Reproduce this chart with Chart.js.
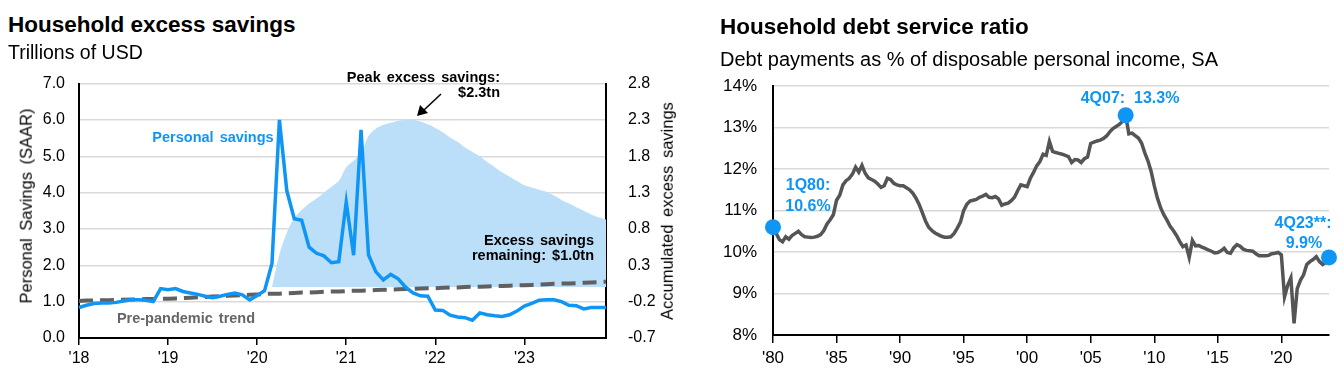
<!DOCTYPE html>
<html>
<head>
<meta charset="utf-8">
<script src="https://cdn.jsdelivr.net/npm/chart.js@4.4.1/dist/chart.umd.min.js"></script>
<style>
  body { margin: 0; width: 1344px; height: 384px; background: #fff; position: relative; overflow: hidden;
         font-family: "Liberation Sans", Arial, sans-serif; color: #000; }
  canvas { position: absolute; }
  .t { position: absolute; white-space: pre; line-height: 1; }
  .c { transform: translate(-50%, -50%); }
  .l { transform: translate(0, -50%); }
  .r { transform: translate(-100%, -50%); text-align: right; }
  .rot { transform: translate(-50%, -50%) rotate(-90deg); }
  .title { font-weight: bold; font-size: 22.5px; }
  .sub { font-size: 19.5px; }
  .note { font-weight: bold; font-size: 14.5px; word-spacing: 2px; }
  .blue { color: #0f96f5; }
  .dnote { font-weight: bold; font-size: 16px; color: #0f96f5; }
  svg { position: absolute; left: 0; top: 0; }
</style>
</head>
<body>
<canvas id="savingsChart" width="690" height="324" style="left:0;top:60px"></canvas>
<canvas id="debtChart" width="654" height="324" style="left:690px;top:60px"></canvas>

<div class="t l title" style="left:8px;top:25px">Household excess savings</div>
<div class="t l sub" style="left:8px;top:53px">Trillions of USD</div>
<div class="t rot" style="left:26px;top:206px;font-size:16.5px;word-spacing:3px">Personal Savings (SAAR)</div>
<div class="t rot" style="left:667px;top:211px;font-size:16.5px;word-spacing:3px">Accumulated excess savings</div>
<div class="t c note blue" style="left:213px;top:137px">Personal savings</div>
<div class="t c note" style="left:186px;top:318px;color:#666">Pre-pandemic trend</div>
<div class="t r note" style="left:500px;top:77px">Peak excess savings:</div>
<div class="t r note" style="left:500px;top:92px">$2.3tn</div>
<div class="t r note" style="left:594px;top:240px">Excess savings</div>
<div class="t r note" style="left:594px;top:255px">remaining: $1.0tn</div>
<svg width="1344" height="384">
  <line x1="441" y1="94" x2="424" y2="110" stroke="#000" stroke-width="1.5"/>
  <polygon points="417,116 420,105 428,113" fill="#000"/>
</svg>

<div class="t l title" style="left:720px;top:27px">Household debt service ratio</div>
<div class="t l sub" style="left:720px;top:59px;font-size:20px">Debt payments as % of disposable personal income, SA</div>
<div class="t c dnote" style="left:1130px;top:98px">4Q07:  13.3%</div>
<div class="t c dnote" style="left:808px;top:185px">1Q80:</div>
<div class="t c dnote" style="left:808px;top:206px">10.6%</div>
<div class="t c dnote" style="left:1303px;top:223px">4Q23**:</div>
<div class="t c dnote" style="left:1304px;top:243px">9.9%</div>

<script>
const FONT = "'Liberation Sans', Arial, sans-serif";
const BLUE = "#0f96f5";
const AREA = "#bcdff9";

// ---- Household excess savings (monthly, Jan 2018 - Dec 2023) ----
const savingsYearLabels = ["'18", "'19", "'20", "'21", "'22", "'23"];
const months = [];
for (let y = 2018; y <= 2023; y++) for (let m = 1; m <= 12; m++) months.push(y + "-" + m);

const personalSavings = [
  0.84, 0.90, 0.95, 0.96, 0.96, 0.98, 1.02, 1.05, 1.05, 1.04, 1.00, 1.36,
  1.33, 1.36, 1.28, 1.24, 1.20, 1.15, 1.11, 1.15, 1.20, 1.24, 1.19, 1.05,
  1.17, 1.30, 2.05, 6.00, 4.05, 3.28, 3.24, 2.50, 2.33, 2.26, 2.07, 2.10,
  3.74, 2.28, 5.73, 2.29, 1.82, 1.60, 1.75, 1.63, 1.40, 1.24, 1.16, 1.15,
  0.77, 0.76, 0.63, 0.58, 0.56, 0.49, 0.69, 0.64, 0.61, 0.59, 0.64, 0.74,
  0.88, 0.95, 1.04, 1.05, 1.05, 1.00, 0.90, 0.89, 0.80, 0.84, 0.84, 0.84
];
const prePandemicTrend = [
  1.02, 1.03, 1.03, 1.04, 1.04, 1.05, 1.05, 1.06, 1.06, 1.07, 1.07, 1.08,
  1.08, 1.09, 1.10, 1.11, 1.12, 1.13, 1.14, 1.15, 1.16, 1.17, 1.18, 1.19,
  1.20, 1.21, 1.22, 1.22, 1.23, 1.24, 1.25, 1.25, 1.26, 1.27, 1.28, 1.28,
  1.29, 1.30, 1.30, 1.31, 1.32, 1.33, 1.33, 1.34, 1.35, 1.35, 1.36, 1.37,
  1.37, 1.38, 1.39, 1.39, 1.40, 1.41, 1.41, 1.42, 1.43, 1.43, 1.44, 1.45,
  1.45, 1.46, 1.47, 1.48, 1.49, 1.50, 1.50, 1.51, 1.52, 1.53, 1.54, 1.55
];
const excessSavings = [
  null, null, null, null, null, null, null, null, null, null, null, null,
  null, null, null, null, null, null, null, null, null, null, null, null,
  null, null, 0.00, 0.45, 0.75, 0.95, 1.06, 1.15, 1.22, 1.30, 1.38, 1.46,
  1.65, 1.74, 1.85, 2.08, 2.18, 2.23, 2.26, 2.29, 2.30, 2.30, 2.28, 2.24,
  2.19, 2.13, 2.06, 2.00, 1.92, 1.86, 1.80, 1.72, 1.65, 1.58, 1.52, 1.46,
  1.40, 1.37, 1.34, 1.31, 1.26, 1.20, 1.15, 1.10, 1.05, 1.00, 0.96, 0.93
];
const excessTicks = [-0.7, -0.2, 0.3, 0.8, 1.3, 1.8, 2.3, 2.8];

// ---- Household debt service ratio (quarterly, 1Q80 - 4Q23) ----
const debtYearLabels = ["'80", "'85", "'90", "'95", "'00", "'05", "'10", "'15", "'20"];
const quarters = [];
for (let y = 1980; y <= 2023; y++) for (let q = 1; q <= 4; q++) quarters.push(q + "Q" + String(y).slice(2));

const debtService = [
  10.60, 10.45, 10.30, 10.25,  10.37, 10.31, 10.40, 10.45,  10.50, 10.42, 10.37, 10.36,
  10.35, 10.36, 10.38, 10.42,  10.52, 10.68, 10.78, 10.90,  11.25, 11.37, 11.62, 11.72,
  11.78, 11.88, 12.05, 11.93,  12.09, 11.90, 11.79, 11.75,  11.71, 11.64, 11.56, 11.60,
  11.78, 11.75, 11.66, 11.62,  11.60, 11.60, 11.55, 11.50,  11.42, 11.30, 11.15, 10.95,
  10.75, 10.60, 10.52, 10.46,  10.42, 10.38, 10.36, 10.36,  10.37, 10.45, 10.58, 10.72,
  11.00, 11.15, 11.23, 11.25,  11.27, 11.32, 11.35, 11.39,  11.32, 11.31, 11.34, 11.28,
  11.13, 11.16, 11.18, 11.24,  11.32, 11.48, 11.62, 11.60,  11.58, 11.78, 11.92, 12.08,
  12.18, 12.36, 12.33, 12.67,  12.43, 12.40, 12.38, 12.36,  12.33, 12.30, 12.16, 12.23,
  12.22, 12.16, 12.25, 12.29,  12.62, 12.65, 12.68, 12.70,  12.74, 12.80, 12.90, 12.98,
  13.03, 13.08, 13.15, 13.30,  12.85, 12.87, 12.81, 12.75,  12.63, 12.40, 12.20, 11.95,
  11.60, 11.30, 11.07, 10.90,  10.77, 10.62, 10.52, 10.40,  10.26, 10.13, 10.17, 9.87,
  10.28, 10.15, 10.16, 10.12,  10.09, 10.05, 10.02, 9.98,   9.99, 10.03, 10.09, 9.99,
  9.97, 10.10, 10.18, 10.14,   10.07, 10.04, 10.03, 10.02,  9.96, 9.91, 9.91, 9.91,
  9.92, 9.96, 9.97, 9.99,      9.93, 8.92, 9.20, 9.38,      8.28, 9.12, 9.32, 9.45,
  9.70, 9.77, 9.82, 9.89,      9.77, 9.70, 9.75, 9.87
];
const highlightQuarters = ["1Q80", "4Q07", "4Q23"];

const tickFont = (size) => ({ family: FONT, size: size });

new Chart(document.getElementById("savingsChart"), {
  type: "line",
  data: {
    labels: months,
    datasets: [
      { data: personalSavings, yAxisID: "y", borderColor: BLUE, borderWidth: 3.5,
        pointRadius: 0, order: 1 },
      { data: prePandemicTrend, yAxisID: "y", borderColor: "#606060", borderWidth: 4,
        borderDash: [14, 7], pointRadius: 0, order: 2 },
      { data: excessSavings, yAxisID: "y2", borderWidth: 0, borderColor: AREA,
        backgroundColor: AREA, fill: "origin", pointRadius: 0, tension: 0.3, order: 3 }
    ]
  },
  options: {
    responsive: false, animation: false, events: [],
    layout: { padding: { top: 23 } },
    plugins: { legend: { display: false }, tooltip: { enabled: false } },
    scales: {
      x: {
        grid: { drawOnChartArea: false, tickLength: 7, lineWidth: 1.5,
                color: (c) => (c.index % 12 === 0 ? "#000" : "rgba(0,0,0,0)") },
        border: { color: "#000", width: 2 },
        ticks: { autoSkip: false, maxRotation: 0, padding: 4, color: "#000", font: tickFont(16),
                 callback: (v, i) => (i % 12 === 0 ? savingsYearLabels[i / 12] : "") },
        afterFit: (s) => { s.height = 46; }
      },
      y: {
        min: 0, max: 7,
        grid: { color: "#d9d9d9", lineWidth: 1.5, drawTicks: false },
        border: { color: "#000", width: 2 },
        ticks: { stepSize: 1, padding: 14, color: "#000", font: tickFont(16),
                 callback: (v) => v.toFixed(1) },
        afterFit: (s) => { s.width = 79; }
      },
      y2: {
        position: "right", min: -0.7, max: 2.8,
        grid: { display: false },
        border: { color: "#000", width: 2 },
        afterBuildTicks: (s) => { s.ticks = excessTicks.map((v) => ({ value: v })); },
        ticks: { padding: 14, color: "#000", font: tickFont(16),
                 callback: (v) => v.toFixed(1) },
        afterFit: (s) => { s.width = 84; }
      }
    }
  }
});

new Chart(document.getElementById("debtChart"), {
  type: "line",
  data: {
    labels: quarters,
    datasets: [
      { data: quarters.map((q, i) => (highlightQuarters.includes(q) ? debtService[i] : null)),
        showLine: false, pointRadius: 8, pointBackgroundColor: BLUE, pointBorderWidth: 0,
        clip: false, order: 1 },
      { data: debtService, borderColor: "#555555", borderWidth: 3.5, pointRadius: 0, order: 2 }
    ]
  },
  options: {
    responsive: false, animation: false, events: [],
    layout: { padding: { top: 26, right: 15 } },
    plugins: { legend: { display: false }, tooltip: { enabled: false } },
    scales: {
      x: {
        grid: { drawOnChartArea: false, tickLength: 8, lineWidth: 1.5,
                color: (c) => (c.index % 20 === 0 ? "#000" : "rgba(0,0,0,0)") },
        border: { color: "#000", width: 2 },
        ticks: { autoSkip: false, maxRotation: 0, padding: 5, color: "#000", font: tickFont(17),
                 callback: (v, i) => (i % 20 === 0 ? debtYearLabels[i / 20] : "") },
        afterFit: (s) => { s.height = 49; }
      },
      y: {
        min: 8, max: 14,
        grid: { color: "#d9d9d9", lineWidth: 1.5, drawTicks: false },
        border: { color: "#000", width: 2 },
        ticks: { stepSize: 1, padding: 16, color: "#000", font: tickFont(17),
                 callback: (v) => v + "%" },
        afterFit: (s) => { s.width = 83; }
      }
    }
  }
});
</script>
</body>
</html>
